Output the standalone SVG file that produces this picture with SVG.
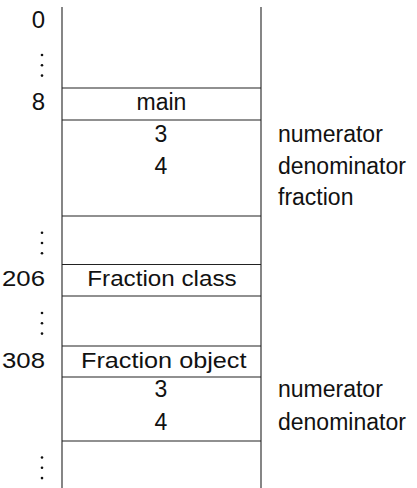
<svg xmlns="http://www.w3.org/2000/svg" width="417" height="488" viewBox="0 0 417 488">
<style>
.ln{stroke:#222;stroke-width:1.1;fill:none}
.t{font-family:"Liberation Sans",Arial,sans-serif;font-size:23px;fill:#111}
.a{font-family:"Liberation Sans",Arial,sans-serif;font-size:24px;fill:#111}
.b{font-family:"Liberation Sans",Arial,sans-serif;font-size:22px;fill:#111}
.c{text-anchor:middle}
.e{text-anchor:end}
.d{fill:#111}
</style>
<defs>
<g id="vdots"><circle cx="0" cy="0" r="1.3" class="d"/><circle cx="0" cy="10.3" r="1.3" class="d"/><circle cx="0" cy="20.6" r="1.3" class="d"/></g>
</defs>
<g id="frame">
<line class="ln" x1="62" y1="7" x2="62" y2="488"/>
<line class="ln" x1="261" y1="7" x2="261" y2="488"/>
<line class="ln" x1="62" y1="88" x2="261" y2="88"/>
<line class="ln" x1="62" y1="120" x2="261" y2="120"/>
<line class="ln" x1="62" y1="216" x2="261" y2="216"/>
<line class="ln" x1="62" y1="264.5" x2="261" y2="264.5"/>
<line class="ln" x1="62" y1="296" x2="261" y2="296"/>
<line class="ln" x1="62" y1="346" x2="261" y2="346"/>
<line class="ln" x1="62" y1="377" x2="261" y2="377"/>
<line class="ln" x1="62" y1="441" x2="261" y2="441"/>
</g>
<g id="addr0"><text class="a e" x="45" y="28.3">0</text><use href="#vdots" x="42" y="55"/></g>
<g id="main">
<text class="a e" x="45" y="110">8</text>
<text class="t c" x="161.5" y="109.5">main</text>
</g>
<g id="mainvars">
<text class="t c" x="161" y="142">3</text>
<text class="t c" x="161" y="173.7">4</text>
<text class="t" x="278" y="142">numerator</text>
<text class="t" x="278" y="173.7">denominator</text>
<text class="t" x="278" y="205">fraction</text>
</g>
<g id="gap1"><use href="#vdots" x="42" y="232.7"/></g>
<g id="fclass">
<text class="b e" x="45" y="286" textLength="43" lengthAdjust="spacingAndGlyphs">206</text>
<text class="b" x="87.3" y="286" textLength="149.4" lengthAdjust="spacingAndGlyphs">Fraction class</text>
</g>
<g id="gap2"><use href="#vdots" x="42" y="313"/></g>
<g id="fobject">
<text class="b e" x="45" y="368" textLength="43" lengthAdjust="spacingAndGlyphs">308</text>
<text class="b" x="81" y="367.5" textLength="165.5" lengthAdjust="spacingAndGlyphs">Fraction object</text>
</g>
<g id="objvars">
<text class="t c" x="161" y="397">3</text>
<text class="t c" x="161" y="430">4</text>
<text class="t" x="278" y="397">numerator</text>
<text class="t" x="278" y="430">denominator</text>
</g>
<g id="gap3"><use href="#vdots" x="42" y="457.5"/></g>
</svg>
